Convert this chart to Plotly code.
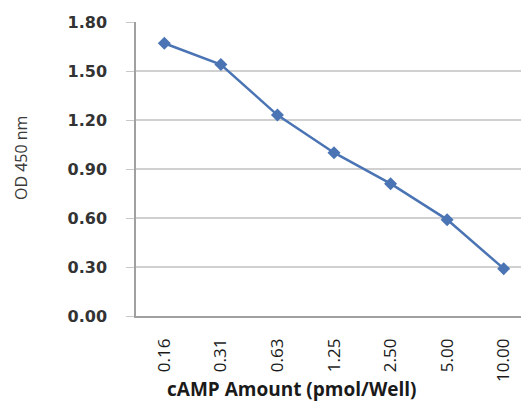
import plotly.graph_objects as go

categories = ["0.16", "0.31", "0.63", "1.25", "2.50", "5.00", "10.00"]
od_values = [1.67, 1.54, 1.23, 1.00, 0.81, 0.59, 0.29]
y_ticks = [0.0, 0.3, 0.6, 0.9, 1.2, 1.5, 1.8]

# page has an 8px body margin, so figure coordinates are offset by 8px
OFF = 8
W, H = 529, 404
L, R, T, B = 136 - OFF, 5, 22 - OFF, H - (316 - OFF)
PW, PH = W - L - R, H - T - B

def px_x(page_x):
    return (page_x - OFF - L) / PW

def px_y(page_y):
    return (H - B - (page_y - OFF)) / PH

fig = go.Figure()
fig.add_trace(go.Scatter(
    x=categories, y=od_values, mode="lines+markers",
    line=dict(color="#4a74b4", width=2.5),
    marker=dict(symbol="diamond", size=10, color="#4a74b4"),
    showlegend=False,
))

fig.update_layout(
    width=W, height=H,
    margin=dict(l=L, r=R, t=T, b=B, pad=0),
    paper_bgcolor="white", plot_bgcolor="white",
    font=dict(family="Open Sans", color="#222222"),
    xaxis=dict(
        type="category", tickangle=-90,
        tickfont=dict(family="Open Sans", size=17, color="#1a1a1a"),
        showgrid=False, showline=True, linecolor="#a0a0a0", linewidth=1.5,
        ticks="", range=[-0.5, 6.5], ticklabelstandoff=14,
    ),
    yaxis=dict(
        range=[0, 1.8], tickvals=y_ticks, tickformat=".2f",
        tickfont=dict(family="DejaVu Sans", size=16, color="#333333", weight="bold"),
        showgrid=True, gridcolor="#d0d0d0", gridwidth=1.5,
        showline=True, linecolor="#a0a0a0", linewidth=1.5,
        ticks="outside", ticklen=8, tickcolor="#c8c8c8",
        zeroline=False, ticklabelstandoff=16,
    ),
    annotations=[
        dict(text="OD 450 nm", xref="paper", yref="paper",
             x=px_x(21), y=px_y(158), xanchor="center", yanchor="middle",
             textangle=-90, showarrow=False,
             font=dict(family="Open Sans", size=16, color="#3a3a3a")),
        dict(text="<b>cAMP Amount (pmol/Well)</b>", xref="paper", yref="paper",
             x=px_x(292), y=px_y(389), xanchor="center", yanchor="middle",
             showarrow=False,
             font=dict(family="Open Sans", size=19, color="#1a1a1a")),
    ],
)

fig.write_html("out.html")
